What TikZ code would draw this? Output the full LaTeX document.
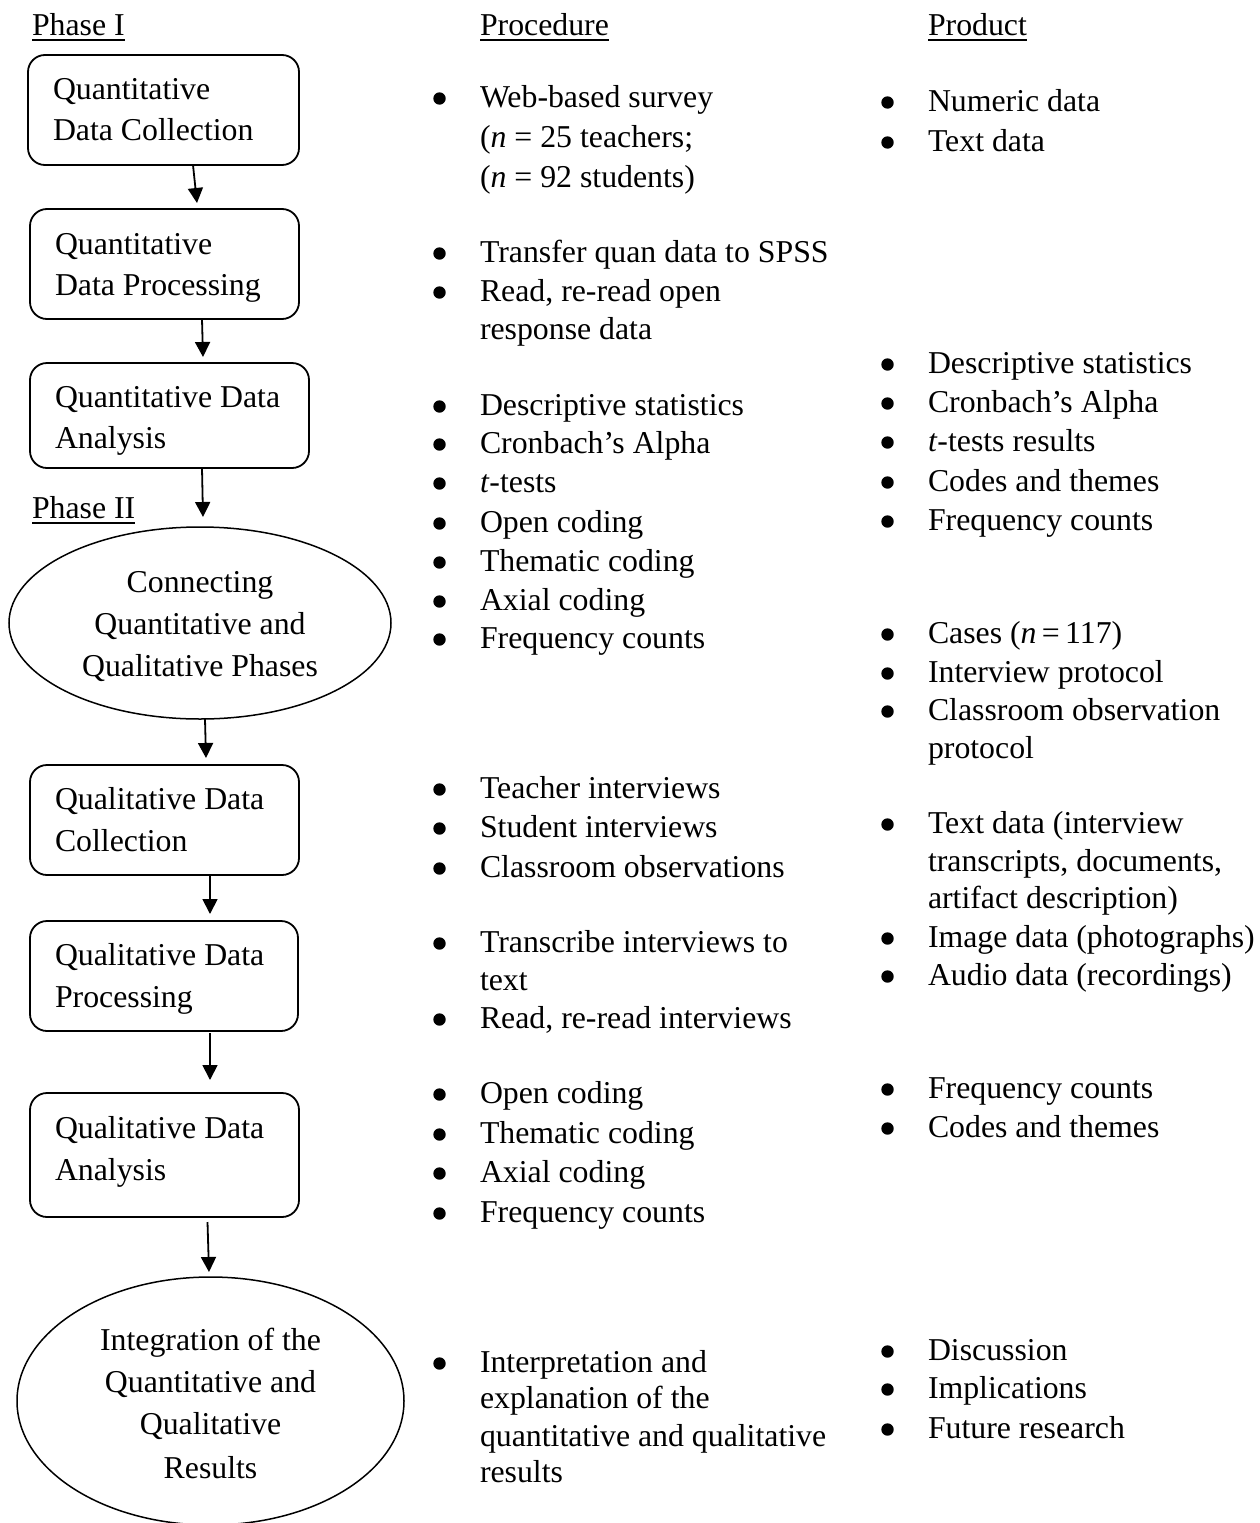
\documentclass[tikz,border=0pt]{standalone}
\usepackage{fontspec}
\setmainfont{Liberation Serif}
\usetikzlibrary{arrows.meta,shapes.geometric}
\tikzset{
  txt/.style={inner sep=0pt, outer sep=0pt, anchor=base west, font=\fontsize{31.8pt}{39pt}\selectfont},
  ctxt/.style={txt, anchor=base},
  stepbox/.style={draw, line width=1.8pt, rounded corners=17pt, inner sep=0pt, outer sep=0pt},
  phasebox/.style={draw, ellipse, line width=1.5pt, inner sep=0pt, outer sep=0pt},
  arr/.style={line width=1.8pt, -{Triangle[length=15pt,width=15pt]}},
  uline/.style={line width=1.6pt},
  dot/.style={fill=black}
}
\newcommand\litem[4]{\node[txt] (#1) at (#2,#3) {#4};}
\newcommand\bitem[4]{\node[txt] (#1) at (#2,#3) {#4};
  \fill[dot] ([xshift=-40.5pt,yshift=8.5pt]#1.base west) circle (6.2pt);}
\newcommand\citem[4]{\node[ctxt] (#1) at (#2,#3) {#4};}
\begin{document}
\begin{tikzpicture}[x=1pt,y=-1pt]
\useasboundingbox (0,0) rectangle (1259,1523);

% headings
\litem{h1}{32}{35}{Phase I}
\litem{h2}{480}{35}{Procedure}
\litem{h3}{928}{35}{Product}
\litem{h4}{32}{518}{Phase II}
\foreach \h in {h1,h2,h3,h4}
  \draw[uline] ([yshift=-5pt]\h.base west) -- ([yshift=-5pt]\h.base east);

% flow shapes
\node[stepbox, minimum width=271pt, minimum height=110pt] (b1) at (163.5,110) {};
\node[stepbox, minimum width=269pt, minimum height=110pt] (b2) at (164.5,264) {};
\node[stepbox, minimum width=279pt, minimum height=105pt] (b3) at (169.5,415.5) {};
\node[phasebox, minimum width=382pt, minimum height=192pt] (e1) at (200,623) {};
\node[stepbox, minimum width=269pt, minimum height=110pt] (b4) at (164.5,820) {};
\node[stepbox, minimum width=268pt, minimum height=110pt] (b5) at (164,976) {};
\node[stepbox, minimum width=269pt, minimum height=124pt] (b6) at (164.5,1155) {};
\node[phasebox, minimum width=387pt, minimum height=248pt] (e2) at (210.5,1401) {};

% box texts
\litem{t1a}{53}{99}{Quantitative}
\litem{t1b}{53}{140}{Data Collection}
\litem{t2a}{55}{254}{Quantitative}
\litem{t2b}{55}{295}{Data Processing}
\litem{t3a}{55}{407}{Quantitative Data}
\litem{t3b}{55}{448}{Analysis}
\citem{e1a}{200}{592}{Connecting}
\citem{e1b}{200}{634}{Quantitative and}
\citem{e1c}{200}{676}{Qualitative Phases}
\litem{t4a}{55}{809}{Qualitative Data}
\litem{t4b}{55}{851}{Collection}
\litem{t5a}{55}{965}{Qualitative Data}
\litem{t5b}{55}{1007}{Processing}
\litem{t6a}{55}{1138}{Qualitative Data}
\litem{t6b}{55}{1180}{Analysis}
\citem{e2a}{210.5}{1350}{Integration of the}
\citem{e2b}{210.5}{1392}{Quantitative and}
\citem{e2c}{210.5}{1434}{Qualitative}
\citem{e2d}{210.5}{1478}{Results}

% connectors
\draw[arr] ([xshift=29.5pt]b1.south) -- ([xshift=32.5pt,yshift=6pt]b2.north);
\draw[arr] ([xshift=37.5pt]b2.south) -- ([xshift=33.5pt,yshift=6pt]b3.north);
\draw[arr] ([xshift=32.5pt]b3.south) -- ([xshift=3pt,yshift=10pt]e1.north);
\draw[arr] ([xshift=5pt]e1.south) -- ([xshift=41.5pt,yshift=7pt]b4.north);
\draw[arr] ([xshift=45.5pt]b4.south) -- ([xshift=46pt,yshift=7pt]b5.north);
\draw[arr] ([xshift=46pt,yshift=-2pt]b5.south) -- ([xshift=45.5pt,yshift=13pt]b6.north);
\draw[arr] ([xshift=43pt,yshift=-5pt]b6.south) -- ([xshift=-1.5pt,yshift=5pt]e2.north);

% procedure column
\bitem{p1}{480}{107}{Web-based survey}
\litem{p1b}{480}{147}{(\textit{n} = 25 teachers;}
\litem{p1c}{480}{187}{(\textit{n} = 92 students)}
\bitem{p2}{480}{262}{Transfer quan data to SPSS}
\bitem{p3}{480}{301}{Read, re-read open}
\litem{p3b}{480}{339}{response data}
\bitem{p4}{480}{415}{Descriptive statistics}
\bitem{p5}{480}{453}{Cronbach’s Alpha}
\bitem{p6}{480}{492}{\textit{t}-tests}
\bitem{p7}{480}{532}{Open coding}
\bitem{p8}{480}{571}{Thematic coding}
\bitem{p9}{480}{610}{Axial coding}
\bitem{p10}{480}{648}{Frequency counts}
\bitem{p11}{480}{798}{Teacher interviews}
\bitem{p12}{480}{837}{Student interviews}
\bitem{p13}{480}{877}{Classroom observations}
\bitem{p14}{480}{952}{Transcribe interviews to}
\litem{p14b}{480}{990}{text}
\bitem{p15}{480}{1028}{Read, re-read interviews}
\bitem{p16}{480}{1103}{Open coding}
\bitem{p17}{480}{1143}{Thematic coding}
\bitem{p18}{480}{1182}{Axial coding}
\bitem{p19}{480}{1222}{Frequency counts}
\bitem{p20}{480}{1372}{Interpretation and}
\litem{p20b}{480}{1408}{explanation of the}
\litem{p20c}{480}{1446}{quantitative and qualitative}
\litem{p20d}{480}{1482}{results}

% product column
\bitem{r1}{928}{111}{Numeric data}
\bitem{r2}{928}{151}{Text data}
\bitem{r3}{928}{373}{Descriptive statistics}
\bitem{r4}{928}{412}{Cronbach’s Alpha}
\bitem{r5}{928}{451}{\textit{t}-tests results}
\bitem{r6}{928}{491}{Codes and themes}
\bitem{r7}{928}{530}{Frequency counts}
\bitem{r8}{928}{643}{Cases (\textit{n}\,=\,117)}
\bitem{r9}{928}{682}{Interview protocol}
\bitem{r10}{928}{720}{Classroom observation}
\litem{r10b}{928}{758}{protocol}
\bitem{r11}{928}{833}{Text data (interview}
\litem{r11b}{928}{871}{transcripts, documents,}
\litem{r11c}{928}{908}{artifact description)}
\bitem{r12}{928}{947}{Image data (photographs)}
\bitem{r13}{928}{985}{Audio data (recordings)}
\bitem{r14}{928}{1098}{Frequency counts}
\bitem{r15}{928}{1137}{Codes and themes}
\bitem{r16}{928}{1360}{Discussion}
\bitem{r17}{928}{1398}{Implications}
\bitem{r18}{928}{1438}{Future research}
\end{tikzpicture}
\end{document}
